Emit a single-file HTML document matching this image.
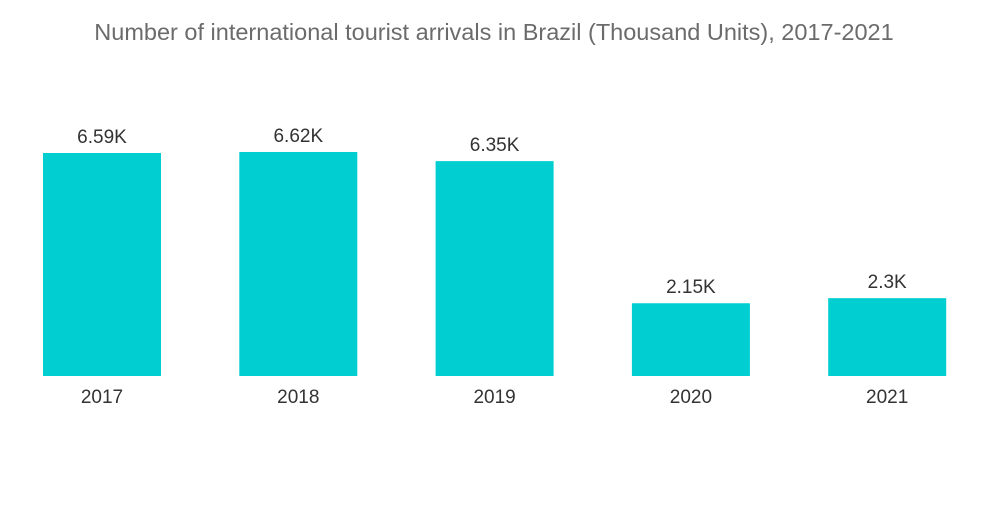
<!DOCTYPE html>
<html><head><meta charset="utf-8"><style>
body{margin:0;background:#fff;width:1000px;height:504px;overflow:hidden;font-family:"Liberation Sans",sans-serif;}
</style></head><body>
<svg width="1000" height="504" xmlns="http://www.w3.org/2000/svg">
<text x="494" y="40" text-anchor="middle" font-size="23.5" fill="#6b6b6b" font-family="Liberation Sans, sans-serif">Number of international tourist arrivals in Brazil (Thousand Units), 2017-2021</text>
<g id="bars"></g>
</svg>
<script>
const years = ["2017","2018","2019","2020","2021"];
const values = [6.59, 6.62, 6.35, 2.15, 2.3];
const valueLabels = ["6.59K","6.62K","6.35K","2.15K","2.3K"];
const baseY = 376, pxPerUnit = 33.84, x0 = 43, step = 196.3, bw = 118;
function yScale(v){ return baseY - v * pxPerUnit; }
function xScale(i){ return x0 + i * step; }
const g = document.getElementById('bars');
const ns = "http://www.w3.org/2000/svg";
years.forEach((yr, i) => {
  const x = xScale(i), y = yScale(values[i]);
  const r = document.createElementNS(ns, 'rect');
  r.setAttribute('x', x); r.setAttribute('y', y);
  r.setAttribute('width', bw); r.setAttribute('height', baseY - y);
  r.setAttribute('fill', '#00ced1');
  
  
  g.appendChild(r);
  const t = document.createElementNS(ns, 'text');
  t.setAttribute('x', x + bw / 2); t.setAttribute('y', y - 10);
  t.setAttribute('text-anchor', 'middle'); t.setAttribute('font-size', '19');
  t.setAttribute('fill', '#333');
  t.textContent = valueLabels[i];
  
  
  g.appendChild(t);
  const l = document.createElementNS(ns, 'text');
  l.setAttribute('x', x + bw / 2); l.setAttribute('y', 403);
  l.setAttribute('text-anchor', 'middle'); l.setAttribute('font-size', '19');
  l.setAttribute('fill', '#333');
  l.textContent = yr;
  
  
  g.appendChild(l);
});
</script>
</body></html>
